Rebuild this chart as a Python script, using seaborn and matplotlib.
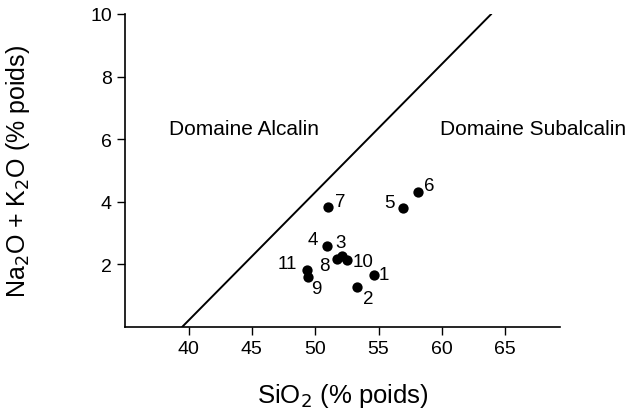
import numpy as np
import pandas as pd
import matplotlib
matplotlib.use("Agg")
import matplotlib.pyplot as plt
import seaborn as sns

# --- data ---
labels = ["1", "2", "3", "4", "5", "6", "7", "8", "9", "10", "11"]
sio2 = [54.6, 53.3, 52.1, 50.9, 56.9, 58.1, 51.0, 51.7, 49.4, 52.5, 49.35]
alk = [1.66, 1.27, 2.26, 2.60, 3.80, 4.32, 3.84, 2.17, 1.59, 2.14, 1.82]
# label offsets (points) relative to marker centre
offsets = [(7.2, 0), (7.9, -8.4), (-0.7, 10.1), (-9.9, 4.1), (-9.4, 4.1),
           (8.4, 4.3), (8.6, 3.6), (-8.9, -4.8), (6.5, -7.9), (11.8, -0.9),
           (-14.4, 4.8)]

# dividing line alcalin / subalcalin
line_x = [39.5, 63.9]
line_y = [0, 10]

x_ticks = [40, 45, 50, 55, 60, 65]
y_ticks = [2, 4, 6, 8, 10]

df = pd.DataFrame({"SiO2": sio2, "alk": alk, "label": labels})

sns.set_style("ticks", {"axes.edgecolor": "black", "text.color": "black",
                        "axes.labelcolor": "black", "xtick.color": "black",
                        "ytick.color": "black"})
plt.rcParams["font.family"] = ["Liberation Sans", "DejaVu Sans"]

fig = plt.figure(figsize=(6.29, 4.14), dpi=100)
ax = fig.add_axes([0.199, 0.208, 0.691, 0.756])

sns.scatterplot(data=df, x="SiO2", y="alk", color="black", s=55,
                edgecolor="black", linewidth=0, ax=ax, zorder=3)
sns.lineplot(x=line_x, y=line_y, color="black", linewidth=1.4, ax=ax)

for lab, x, y, off in zip(labels, sio2, alk, offsets):
    ax.annotate(lab, (x, y), xytext=off, textcoords="offset points",
                fontsize=13.5, ha="center", va="center")

ax.text(44.4, 6.33, "Domaine Alcalin", fontsize=15, ha="center", va="center")
ax.text(67.2, 6.33, "Domaine Subalcalin", fontsize=15, ha="center", va="center")

ax.set_xlim(35, 69.3)
ax.set_ylim(0, 10)
ax.set_xticks(x_ticks)
ax.set_yticks(y_ticks)
ax.tick_params(labelsize=14, length=6, width=1)
sns.despine(ax=ax)
ax.spines["left"].set_linewidth(1.2)
ax.spines["bottom"].set_linewidth(1.2)

ax.set_xlabel("SiO$_2$ (% poids)", fontsize=18.5, labelpad=17)
ax.set_ylabel("Na$_2$O + K$_2$O (% poids)", fontsize=18)
ax.yaxis.set_label_coords(-0.215, 0.5)

fig.savefig("out.png", dpi=100)
